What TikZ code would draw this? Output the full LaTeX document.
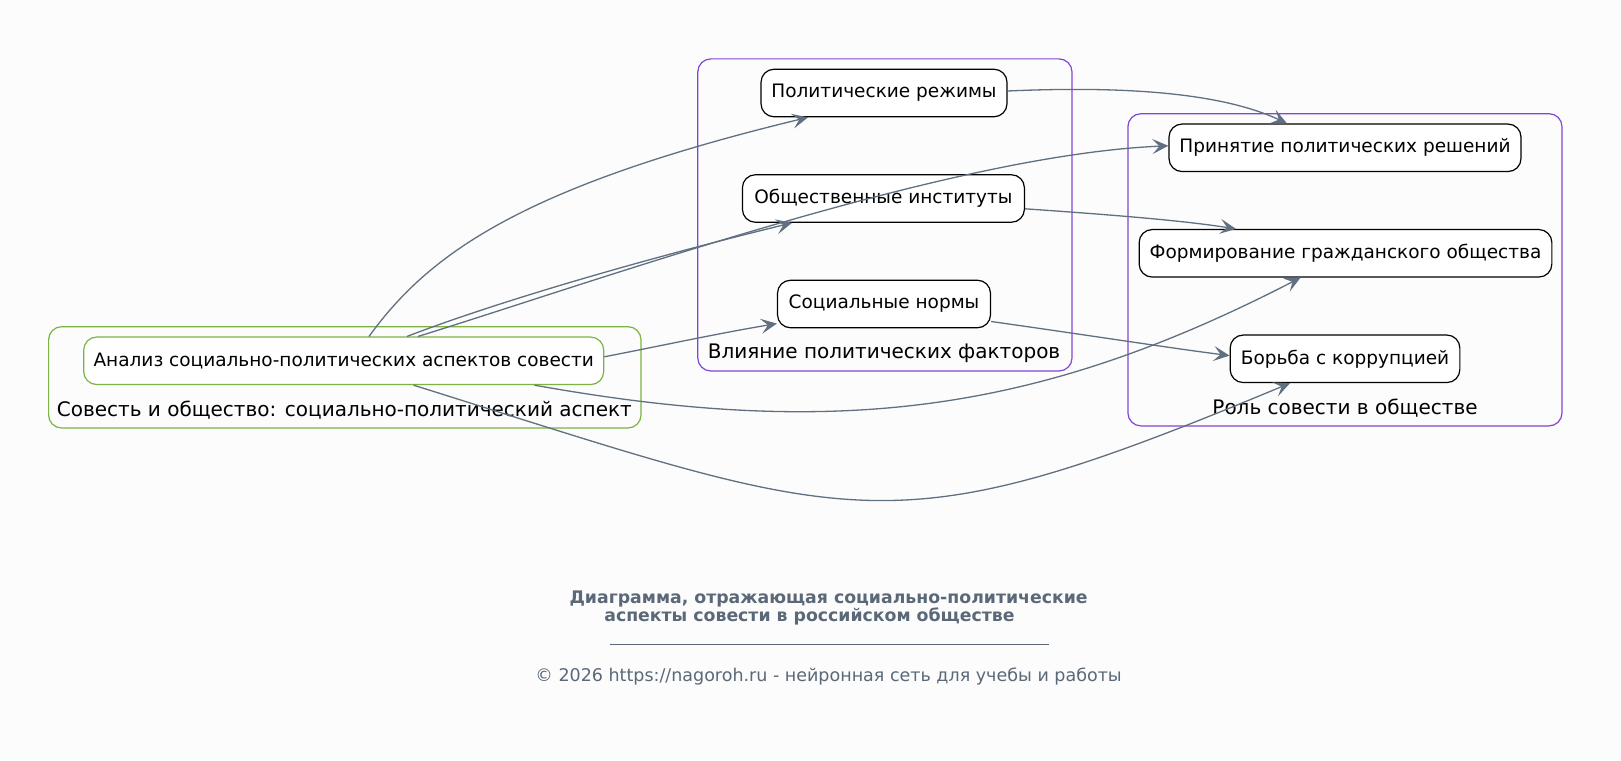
\documentclass[tikz,border=0pt]{standalone}
\usepackage{fontspec}
\setmainfont{DejaVu Sans}
\usetikzlibrary{arrows.meta}
\definecolor{edgec}{RGB}{96,112,128}
\definecolor{greenc}{RGB}{124,179,66}
\definecolor{purplec}{RGB}{130,70,215}
\definecolor{titlec}{RGB}{90,104,120}
\definecolor{bgc}{RGB}{252,252,252}
\tikzset{
  every node/.style={font=\fontsize{18.5}{22}\selectfont, inner sep=0pt},
  box/.style={draw=black, line width=1.2pt, rounded corners=13pt, fill=white, minimum height=47.5pt},
  gbox/.style={box, draw=greenc},
  cluster/.style={draw, line width=1.2pt, rounded corners=13pt},
  clabel/.style={font=\fontsize{20}{24}\selectfont},
  conn/.style={draw=edgec, line width=1.3pt, -{Stealth[length=16pt, width=15pt, inset=7pt]}},
}
\begin{document}
\begin{tikzpicture}[x=1pt, y=-1pt]
\fill[bgc] (0,0) rectangle (1621,760);
\useasboundingbox (0,0) rectangle (1621,760);

% clusters
\draw[cluster, greenc] (48.6,326.7) rectangle (641,428);
\draw[cluster, purplec] (697.8,58.9) rectangle (1072,371);
\draw[cluster, purplec] (1127.9,113.7) rectangle (1562,425.9);
\node[clabel] (c1) at (344.3,410.4) {Совесть и общество: социально-политический аспект};
\node[clabel] (c2) at (884,353.6) {Влияние политических факторов};
\node[clabel] (c3) at (1345,408.3) {Роль совести в обществе};

% nodes
\node[gbox, minimum width=520pt] (a) at (343.7,360.8) {Анализ социально-политических аспектов совести};
\node[box, minimum width=246pt] (pr) at (884,93) {Политические режимы};
\node[box, minimum width=282pt] (oi) at (883.4,198.5) {Общественные институты};
\node[box, minimum width=213pt] (sn) at (884,304) {Социальные нормы};
\node[box, minimum width=352pt] (prin) at (1345,147.8) {Принятие политических решений};
\node[box, minimum width=412.7pt] (form) at (1345.5,253.3) {Формирование гражданского общества};
\node[box, minimum width=229.7pt] (bor) at (1345,358.8) {Борьба с коррупцией};

% connectors
\draw[conn] ([xshift=25.3pt]a.north) .. controls (428,255) and (520,187) .. ([xshift=-76pt]pr.south);
\draw[conn] ([xshift=63.3pt]a.north) .. controls (470,312) and (600,270) .. ([xshift=-91.4pt]oi.south);
\draw[conn] ([xshift=74.3pt]a.north) .. controls (600,280) and (950,155) .. ([yshift=2pt]prin.west);
\draw[conn] ([yshift=4pt]a.east) .. controls (660,346) and (720,333) .. ([yshift=-19.6pt]sn.west);
\draw[conn] ([xshift=190.8pt]a.south) .. controls (840,440) and (1040,412) .. ([xshift=-45pt]form.south);
\draw[conn] ([xshift=69.8pt]a.south) .. controls (860,525) and (885,552) .. ([xshift=-55pt]bor.south);
\draw[conn] ([yshift=2pt]pr.east) .. controls (1120,86) and (1220,92) .. ([xshift=-58pt]prin.north);
\draw[conn] ([yshift=-10.3pt]oi.east) .. controls (1100,214) and (1180,220) .. ([xshift=-109.5pt]form.north);
\draw[conn] ([yshift=-17.5pt]sn.east) .. controls (1080,334) and (1170,348) .. ([yshift=3.2pt]bor.west);

% title
\node[text=titlec, font=\fontsize{17.3}{20}\selectfont\bfseries] (t1) at (828.6,598.6) {Диаграмма, отражающая социально-политические};
\node[text=titlec, font=\fontsize{17.3}{20}\selectfont\bfseries] (t2) at (809.4,616.5) {аспекты совести в российском обществе};
\coordinate (u1) at (610,644);
\coordinate (u2) at (1049,644);
\draw[titlec, line width=1pt] (u1) -- (u2);
\node[text=titlec, font=\fontsize{17.5}{20}\selectfont] (cp) at (828.6,677) {© 2026 https://nagoroh.ru - нейронная сеть для учебы и работы};
\end{tikzpicture}
\end{document}
